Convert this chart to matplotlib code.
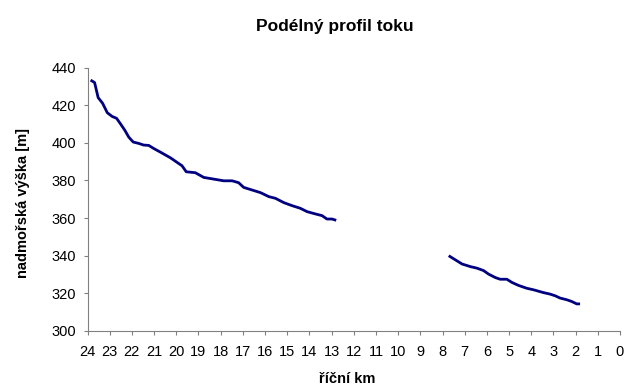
import matplotlib
matplotlib.use("Agg")
import matplotlib.pyplot as plt

plt.rcParams['font.family'] = ['Liberation Sans', 'DejaVu Sans']

# Upper reach (river km, elevation m)
km_upper = [23.86, 23.68, 23.52, 23.32, 23.11, 22.89, 22.69, 22.51, 22.32, 22.14,
            21.94, 21.70, 21.47, 21.24, 21.02, 20.71, 20.26, 19.89, 19.74, 19.55,
            19.14, 18.76, 18.31, 17.86, 17.48, 17.19, 16.96, 16.58, 16.20, 15.83,
            15.53, 15.15, 14.78, 14.41, 14.10, 13.73, 13.43, 13.21, 12.98, 12.79]
elev_upper = [433.3, 432.0, 424.0, 421.0, 416.0, 414.0, 413.0, 410.0, 406.7, 403.0,
              400.4, 399.7, 398.8, 398.6, 397.0, 395.0, 392.0, 389.0, 387.8, 384.6,
              384.1, 381.6, 380.7, 379.8, 379.8, 378.8, 376.3, 374.9, 373.5, 371.4,
              370.5, 368.2, 366.6, 365.2, 363.4, 362.2, 361.3, 359.5, 359.5, 358.8]

# Lower reach
km_lower = [7.72, 7.42, 7.12, 6.74, 6.45, 6.15, 5.92, 5.62, 5.40, 5.10,
            4.87, 4.57, 4.20, 3.90, 3.45, 3.15, 2.92, 2.70, 2.40, 2.18, 1.95, 1.80]
elev_lower = [340.0, 337.8, 335.6, 334.2, 333.4, 332.1, 330.2, 328.4, 327.5, 327.5,
              325.8, 324.2, 322.7, 321.9, 320.4, 319.6, 318.7, 317.5, 316.6, 315.7, 314.4, 314.4]

x_ticks = list(range(0, 25))
y_ticks = [300, 320, 340, 360, 380, 400, 420, 440]

W, H = 633, 389
fig = plt.figure(figsize=(W / 100, H / 100), dpi=100)
ax = fig.add_axes([87.5 / W, 1 - 331 / H, (620 - 87.5) / W, (331 - 67.5) / H])

line_color = '#000080'
ax.plot(km_upper, elev_upper, color=line_color, linewidth=2.0, solid_capstyle='butt')
ax.plot(km_lower, elev_lower, color=line_color, linewidth=2.0, solid_capstyle='butt')

ax.set_xlim(24, 0)
ax.set_ylim(300, 440)
ax.set_xticks(x_ticks)
ax.set_yticks(y_ticks)

for s in ['top', 'right']:
    ax.spines[s].set_visible(False)
for s in ['left', 'bottom']:
    ax.spines[s].set_color('#808080')
    ax.spines[s].set_linewidth(0.8)

ax.tick_params(axis='both', direction='out', length=3, width=0.8, color='#808080',
               labelsize=10.5, labelcolor='black')
ax.tick_params(axis='y', pad=5)
ax.tick_params(axis='x', pad=7)

fig.text(335 / W, 1 - 26 / H, 'Podélný profil toku', fontsize=12.5, fontweight='bold',
         ha='center', va='center')
fig.text(347.5 / W, 1 - 379 / H, 'říční km', fontsize=10.5, fontweight='bold',
         ha='center', va='center')
fig.text(23 / W, 1 - 203 / H, 'nadmořská výška [m]', fontsize=10.5, fontweight='bold',
         ha='center', va='center', rotation=90)

fig.savefig('out.png', dpi=100, facecolor='white')
